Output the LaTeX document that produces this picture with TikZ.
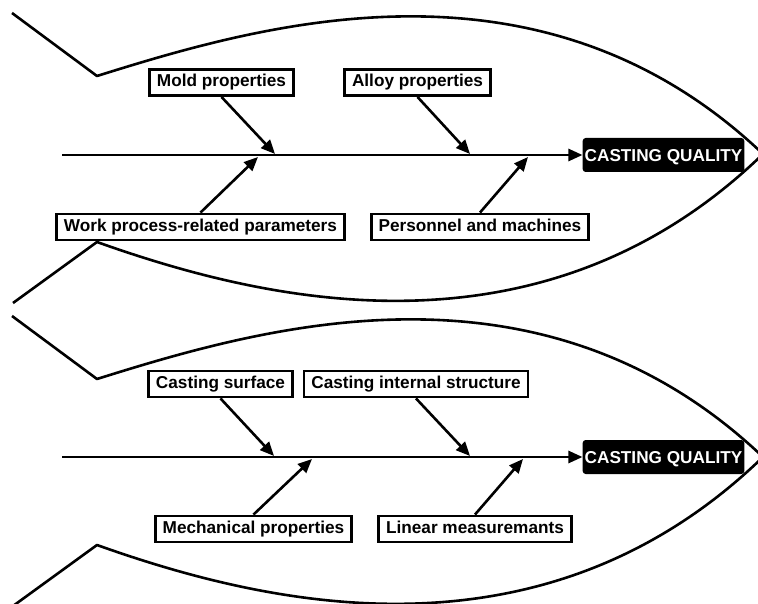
\documentclass[tikz,border=0pt]{standalone}
\usepackage{fontspec}
\setmainfont{Liberation Sans}
\usetikzlibrary{arrows.meta}
\begin{document}
\begin{tikzpicture}[x=1pt,y=-1pt,
  outline/.style={line width=2.6pt, line join=round},
  cause/.style={draw, line width=2.8pt, fill=white,
    font=\bfseries\fontsize{17.2}{20}\selectfont,
    text height=12.5pt, text depth=3.6pt, inner xsep=7.4pt, inner ysep=5pt},
  effect/.style={fill=black, text=white, rounded corners=3pt,
    font=\bfseries\fontsize{17.2}{20}\selectfont,
    text height=12.4pt, text depth=0pt, minimum height=34pt, inner xsep=2pt},
  arr/.style={line width=2.6pt, -{Triangle[length=14pt,width=12pt]}},
]
\useasboundingbox (0,0) rectangle (758,604);
\clip (0,0) rectangle (758,604);
\fill[white] (0,0) rectangle (758,604);

% fish outlines
\draw[outline] (12,13) -- (97,76) .. controls (260,25) and (540,-58) .. (763,154)
  .. controls (540,370) and (260,300) .. (97,242) -- (13,303);
\draw[outline] (12,316) -- (97,379) .. controls (260,328) and (540,245) .. (763,457)
  .. controls (540,673) and (260,603) .. (97,545) -- (13,606);

% top diagram
\node[effect] (cq1) at (663.5,155) {CASTING QUALITY};
\coordinate (s1) at (62,155);
\draw[arr] (s1) -- (cq1.west);
\node[cause] (mold) at (221.5,82.5) {Mold properties};
\node[cause] (alloy) at (417.5,82.5) {Alloy properties};
\node[cause] (work) at (200.5,227) {Work process-related parameters};
\node[cause] (pers) at (480,227) {Personnel and machines};
\coordinate (t1) at (275,154);
\coordinate (t2) at (258,157);
\coordinate (t3) at (470,154);
\coordinate (t4) at (528,157);
\draw[arr] (mold.south) -- (t1);
\draw[arr] (work.north) -- (t2);
\draw[arr] (alloy.south) -- (t3);
\draw[arr] (pers.north) -- (t4);

% bottom diagram
\node[effect] (cq2) at (663.5,457) {CASTING QUALITY};
\coordinate (s2) at (62,457);
\draw[arr] (s2) -- (cq2.west);
\node[cause] (surf) at (220.5,384) {Casting surface};
\node[cause] (intl) at (416,384) {Casting internal structure};
\node[cause] (mech) at (253.5,529) {Mechanical properties};
\node[cause] (lin) at (475,529) {Linear measuremants};
\coordinate (b1) at (274,456);
\coordinate (b2) at (312,459);
\coordinate (b3) at (470,456);
\coordinate (b4) at (523,459);
\draw[arr] (surf.south) -- (b1);
\draw[arr] (mech.north) -- (b2);
\draw[arr] (intl.south) -- (b3);
\draw[arr] (lin.north) -- (b4);
\end{tikzpicture}
\end{document}
